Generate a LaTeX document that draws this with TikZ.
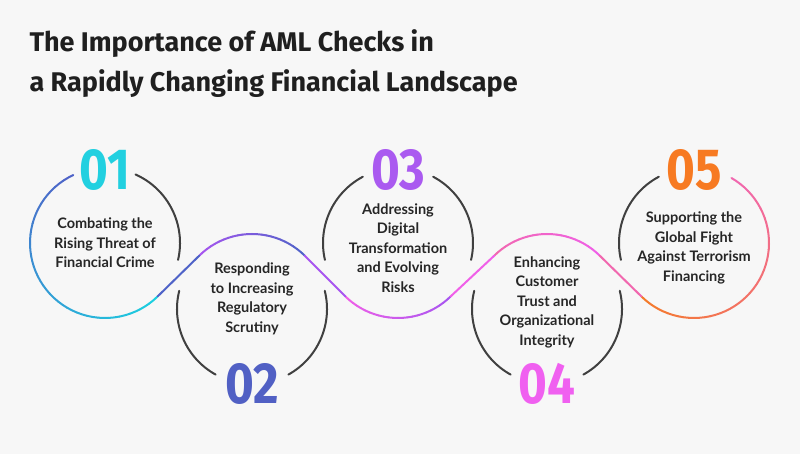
\documentclass[tikz,border=0pt]{standalone}
\usepackage{fontspec}
\setmainfont{Lato}
\newfontfamily\titlefont{Fira Sans}
\newfontfamily\numfont{Fira Sans}
\begin{document}
\begin{tikzpicture}[x=1pt,y=1pt,
  wave/.style={line width=2pt,line cap=round},
  grayarc/.style={line width=2pt,color=black!75,line cap=round},
  body/.style={align=center,font=\bfseries\fontsize{14.5}{19.5}\selectfont,text=black!85},
  num/.style={font=\numfont\bfseries\fontsize{58}{58}\selectfont,xscale=0.85}]
\definecolor{bg}{HTML}{F7F7F7}
\definecolor{cA}{HTML}{1CCFE0}
\definecolor{cB}{HTML}{4F63C8}
\definecolor{cC}{HTML}{A855F0}
\definecolor{cD}{HTML}{F060E8}
\definecolor{cE}{HTML}{F47B2A}
\definecolor{nA}{HTML}{22D0E0}
\definecolor{nB}{HTML}{5160C4}
\definecolor{nC}{HTML}{AA5AF0}
\definecolor{nD}{HTML}{F060F0}
\definecolor{nE}{HTML}{F77A22}
\newcommand\wseg[6]{%
 \foreach \i in {0,...,23}{%
  \pgfmathsetmacro\aa{#3+(#4-#3)*\i/24}%
  \pgfmathsetmacro\ab{#3+(#4-#3)*(\i+1)/24}%
  \pgfmathtruncatemacro\pc{100-100*\i/23}%
  \draw[wave,color=#6!\pc!#5] ([shift={(\aa:75pt)}]#1,#2) arc[start angle=\aa,end angle=\ab,radius=75pt];}}
\fill[bg] (0,0) rectangle (800,454);
\useasboundingbox (0,0) rectangle (800,454);
% title
\node[anchor=west,font=\titlefont\bfseries\fontsize{27}{27}\selectfont,text=black!88] (t1) at (26,410) {The Importance of AML Checks in};
\node[anchor=west,font=\titlefont\bfseries\fontsize{27}{27}\selectfont,text=black!88] (t2) at (26,370) {a Rapidly Changing Financial Landscape};
% circle centres
\coordinate (c1) at (105,211);
\coordinate (c2) at (252,145);
\coordinate (c3) at (398,211);
\coordinate (c4) at (547,145);
\coordinate (c5) at (694,211);
% wave
\wseg{105}{211}{115}{314.5}{cA}{cB}
\wseg{252}{145}{134.5}{45.5}{cB}{cC}
\wseg{398}{211}{225.5}{314.5}{cC}{cD}
\wseg{547}{145}{134.5}{45.5}{cD}{cD!70!cE}
\wseg{694}{211}{225.5}{420}{cD!70!cE}{cE}
\coordinate (j1a) at ([shift={(314.5:75pt)}]c1);
\coordinate (j1b) at ([shift={(134.5:75pt)}]c2);
\coordinate (j2a) at ([shift={(45.5:75pt)}]c2);
\coordinate (j2b) at ([shift={(225.5:75pt)}]c3);
\coordinate (j3a) at ([shift={(314.5:75pt)}]c3);
\coordinate (j3b) at ([shift={(134.5:75pt)}]c4);
\coordinate (j4a) at ([shift={(45.5:75pt)}]c4);
\coordinate (j4b) at ([shift={(225.5:75pt)}]c5);
\draw[wave,cB] (j1a) -- (j1b);
\draw[wave,cC] (j2a) -- (j2b);
\draw[wave,cD] (j3a) -- (j3b);
\draw[wave,cD!70!cE] (j4a) -- (j4b);
% gray arcs
\draw[grayarc] ([shift={(66:75pt)}]c1) arc[start angle=66,end angle=-13,radius=75pt];
\draw[grayarc] ([shift={(166:75pt)}]c2) arc[start angle=166,end angle=241,radius=75pt];
\draw[grayarc] ([shift={(299:75pt)}]c2) arc[start angle=299,end angle=374,radius=75pt];
\draw[grayarc] ([shift={(193:75pt)}]c3) arc[start angle=193,end angle=118,radius=75pt];
\draw[grayarc] ([shift={(62:75pt)}]c3) arc[start angle=62,end angle=-13,radius=75pt];
\draw[grayarc] ([shift={(166:75pt)}]c4) arc[start angle=166,end angle=241,radius=75pt];
\draw[grayarc] ([shift={(299:75pt)}]c4) arc[start angle=299,end angle=374,radius=75pt];
\draw[grayarc] ([shift={(193:75pt)}]c5) arc[start angle=193,end angle=118,radius=75pt];
% numbers
\node[num,text=nA] (n1) at (105,284) {01};
\node[num,text=nB] (n2) at (252,70) {02};
\node[num,text=nC] (n3) at (398,284) {03};
\node[num,text=nD] (n4) at (547,70) {04};
\node[num,text=nE] (n5) at (694,284) {05};
% texts
\node[body] (b1) at (105,211) {Combating the\\Rising Threat of\\Financial Crime};
\node[body] (b2) at (252,155) {Responding\\to Increasing\\Regulatory\\Scrutiny};
\node[body] (b3) at (398,206) {Addressing\\Digital\\Transformation\\and Evolving\\Risks};
\node[body] (b4) at (547,152) {Enhancing\\Customer\\Trust and\\Organizational\\Integrity};
\node[body] (b5) at (694,206) {Supporting the\\Global Fight\\Against Terrorism\\Financing};
\end{tikzpicture}
\end{document}
